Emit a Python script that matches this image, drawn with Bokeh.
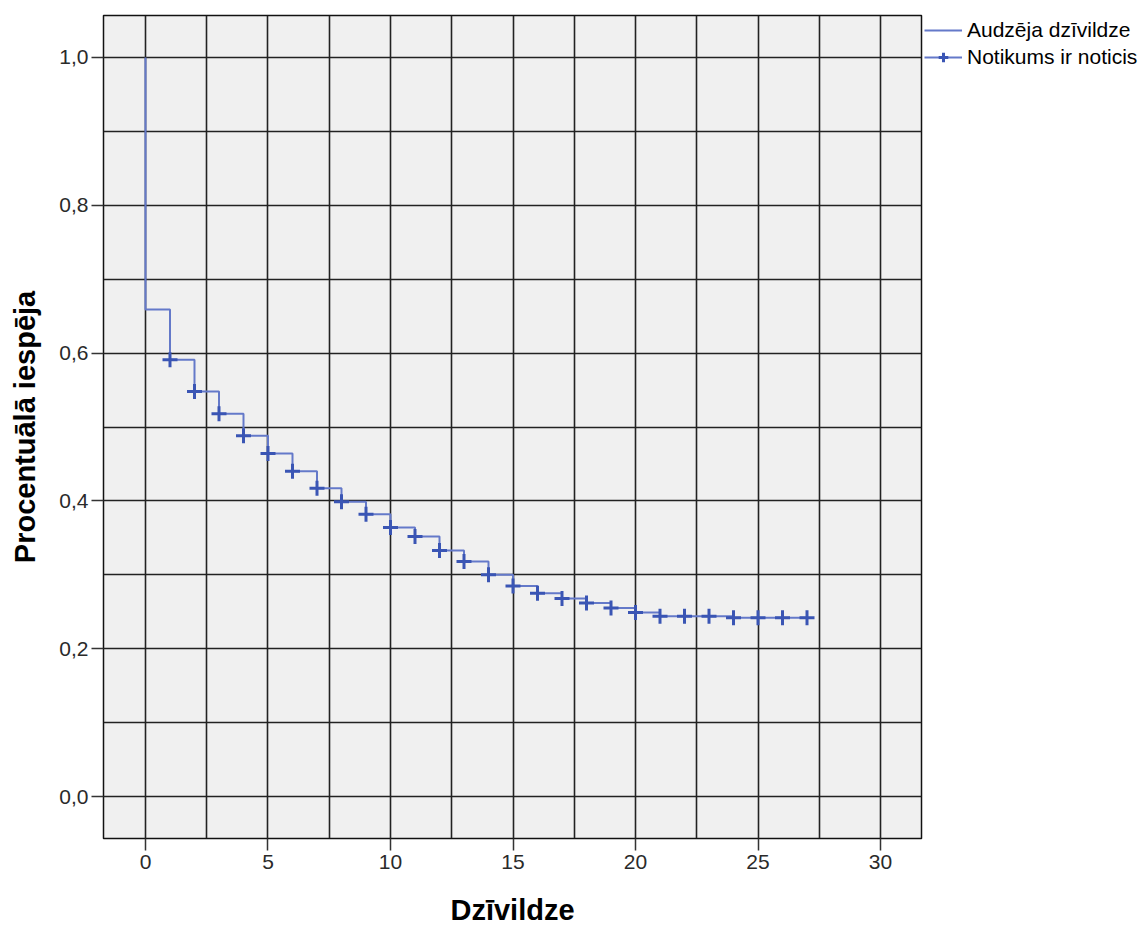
from bokeh.plotting import figure
from bokeh.models import FixedTicker, CustomJSTickFormatter, Legend, LegendItem, Range1d
from bokeh.embed import file_html
from bokeh.resources import INLINE
import numpy as np

# ---- data ----
times = [0, 1, 2, 3, 4, 5, 6, 7, 8, 9, 10, 11, 12, 13, 14, 15, 16, 17, 18, 19,
         20, 21, 22, 23, 24, 25, 26, 27]
survival = [0.659, 0.591, 0.548, 0.518, 0.488, 0.464, 0.440, 0.417, 0.399, 0.382,
            0.364, 0.352, 0.333, 0.318, 0.300, 0.285, 0.275, 0.268, 0.262, 0.255,
            0.249, 0.244, 0.244, 0.244, 0.242, 0.242, 0.242, 0.242]
start_value = 1.0
censor_times = times[1:]
censor_values = survival[1:]

x_ticks = [0, 5, 10, 15, 20, 25, 30]
y_ticks = [0.0, 0.2, 0.4, 0.6, 0.8, 1.0]
x_grid = list(np.arange(0, 30.01, 2.5))
y_grid = list(np.round(np.arange(0, 1.001, 0.1), 2))

series_step = "Audzēja dzīvildze"
series_censor = "Notikums ir noticis"
x_title = "Dzīvildze"
y_title = "Procentuālā iespēja"

FONT = "Liberation Sans"
LINE_COLOR = "#6479c9"
MARK_COLOR = "#3a55b4"

p = figure(frame_width=818, frame_height=823,
           min_border_left=103, min_border_right=223, min_border_top=15, min_border_bottom=89,
           output_backend="svg", toolbar_location=None,
           x_range=Range1d(-1.714, 31.673), y_range=Range1d(-0.0568, 1.0568))

p.background_fill_color = "#f0f0f0"
p.border_fill_color = "white"
p.outline_line_color = "#111111"
p.outline_line_width = 1.5

# grids
p.xgrid.ticker = FixedTicker(ticks=x_grid)
p.ygrid.ticker = FixedTicker(ticks=y_grid)
for g in (p.xgrid[0], p.ygrid[0]):
    g.grid_line_color = "#222222"
    g.grid_line_width = 1.6

# axes
p.xaxis.ticker = FixedTicker(ticks=x_ticks)
p.yaxis.ticker = FixedTicker(ticks=y_ticks)
p.yaxis.formatter = CustomJSTickFormatter(code="return tick.toFixed(1).replace('.', ',');")
p.xaxis.formatter = CustomJSTickFormatter(code="return String(Math.round(tick));")
for ax in (p.xaxis[0], p.yaxis[0]):
    ax.major_tick_out = 12
    ax.major_tick_in = 0
    ax.minor_tick_out = 0
    ax.minor_tick_in = 0
    ax.major_tick_line_color = "#333333"
    ax.major_tick_line_width = 1.5
    ax.axis_line_color = None
    ax.major_label_text_font = FONT
    ax.major_label_text_font_size = "21px"
    ax.major_label_text_color = "#2a2a2a"
    ax.axis_label_text_font = FONT
    ax.axis_label_text_font_size = "29px"
    ax.axis_label_text_font_style = "bold"
    ax.axis_label_text_color = "black"
p.xaxis.axis_label = x_title
p.yaxis.axis_label = y_title
p.xaxis.major_label_standoff = 4
p.xaxis.axis_label_standoff = 22
p.yaxis.major_label_standoff = 3
p.yaxis.axis_label_standoff = 15

# survival step line
step_x = [times[0]] + times
step_y = [start_value] + survival
r_step = p.step(step_x, step_y, mode="after", line_color=LINE_COLOR, line_width=2)

# censor marks (legend shows a line through the mark)
r_dummy = p.line([float("nan"), float("nan")], [float("nan"), float("nan")],
                 line_color=LINE_COLOR, line_width=2)
r_cens = p.scatter(censor_times, censor_values, marker="cross", size=15,
                   line_color=MARK_COLOR, line_width=3)

legend = Legend(items=[LegendItem(label=series_step, renderers=[r_step]),
                       LegendItem(label=series_censor, renderers=[r_dummy, r_cens])],
                location="top_left", orientation="vertical")
legend.background_fill_alpha = 0
legend.border_line_color = None
legend.padding = 2
legend.margin = 3
legend.spacing = 3
legend.glyph_width = 38
legend.glyph_height = 24
legend.label_standoff = 5
legend.label_text_font = FONT
legend.label_text_font_size = "21px"
legend.label_text_color = "black"
legend.label_height = 24
p.add_layout(legend, "right")

open("out.html", "w").write(file_html(p, INLINE))
